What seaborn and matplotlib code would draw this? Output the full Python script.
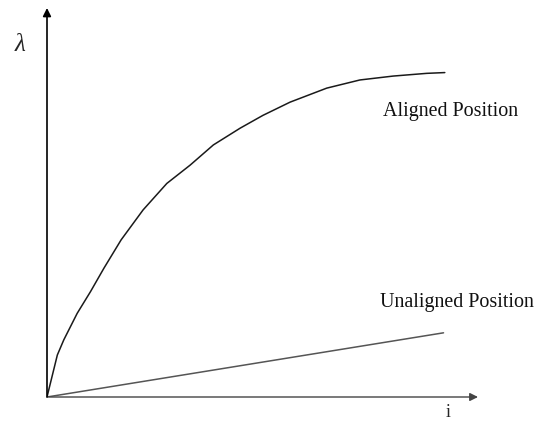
import matplotlib
matplotlib.use("Agg")
import matplotlib.pyplot as plt
import seaborn as sns
import pandas as pd

# Flux linkage (lambda) versus current (i) for the two rotor positions
aligned_i = [0, 0.24, 0.39, 0.70, 1.01, 1.32, 1.72, 2.23, 2.78, 3.32, 3.86,
             4.48, 5.01, 5.64, 6.49, 7.26, 8.03, 8.81, 9.23]
aligned_flux = [0, 1.08, 1.47, 2.15, 2.71, 3.31, 4.04, 4.81, 5.49, 5.96, 6.48,
                6.91, 7.24, 7.58, 7.94, 8.15, 8.25, 8.32, 8.34]
unaligned_i = [0, 9.2]
unaligned_flux = [0, 1.65]

series_labels = ["Aligned Position", "Unaligned Position"]
x_label = "i"
y_label = "λ"

sns.set_style("white")
plt.rcParams["font.family"] = ["Liberation Serif", "DejaVu Serif"]

df_aligned = pd.DataFrame({"i": aligned_i, "flux": aligned_flux})
df_unaligned = pd.DataFrame({"i": unaligned_i, "flux": unaligned_flux})

fig = plt.figure(figsize=(5.37, 4.28), dpi=100)
ax = fig.add_axes([47 / 537, 31 / 428, 431 / 537, 389 / 428])

sns.lineplot(data=df_aligned, x="i", y="flux", ax=ax, color="#1a1a1a",
             linewidth=1.1, sort=False, estimator=None)
sns.lineplot(data=df_unaligned, x="i", y="flux", ax=ax, color="#555555",
             linewidth=1.1, sort=False, estimator=None)

ax.set_xlim(0, 10)
ax.set_ylim(0, 10)
for side in ax.spines.values():
    side.set_visible(False)
ax.set_xticks([])
ax.set_yticks([])
ax.set_xlabel("")
ax.set_ylabel("")

# Axis arrows
ax.annotate("", xy=(10, 0), xytext=(0, 0), annotation_clip=False,
            arrowprops=dict(arrowstyle="-|>", color="#444444", lw=1.0,
                            mutation_scale=12, shrinkA=0, shrinkB=0))
ax.annotate("", xy=(0, 10), xytext=(0, 0), annotation_clip=False,
            arrowprops=dict(arrowstyle="-|>", color="black", lw=1.2,
                            mutation_scale=12, shrinkA=0, shrinkB=0))

ax.text(7.8, 7.33, series_labels[0], ha="left", va="center", fontsize=14.4,
        color="#111111")
ax.text(7.73, 2.42, series_labels[1], ha="left", va="center", fontsize=14.4,
        color="#111111")
ax.text(9.3, -0.41, x_label, ha="center", va="center", fontsize=13,
        clip_on=False)
ax.text(-0.63, 9.05, y_label, ha="center", va="center", fontsize=18,
        style="italic", clip_on=False)

fig.savefig("out.png", dpi=100)
